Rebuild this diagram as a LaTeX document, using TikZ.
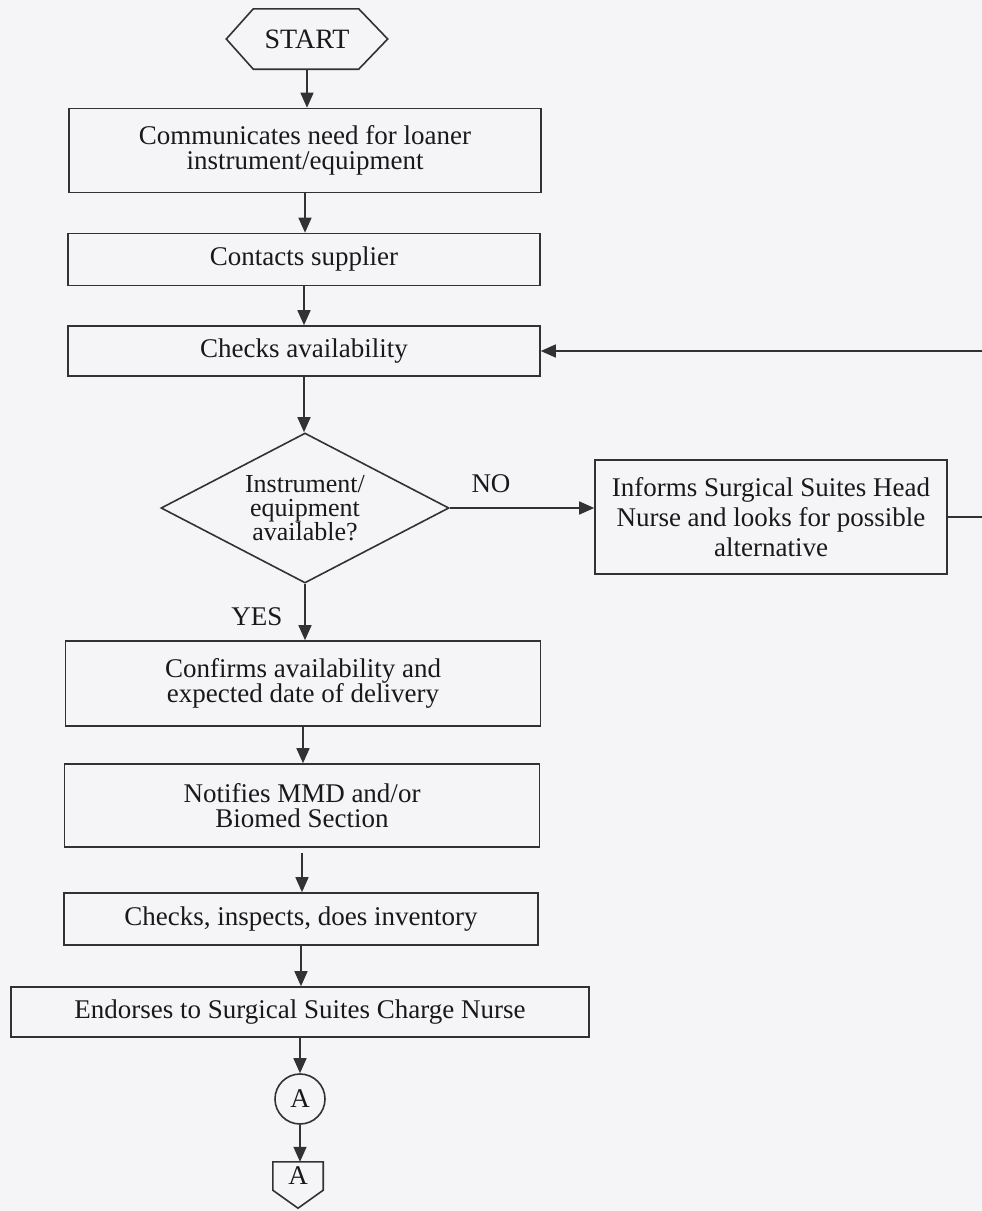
\documentclass[tikz,border=0pt]{standalone}
\usepackage{fontspec}
\setmainfont{Liberation Serif}
\usetikzlibrary{arrows.meta,shapes.geometric,calc}
\definecolor{bgcol}{RGB}{245,245,247}
\definecolor{linecol}{RGB}{50,50,50}
\definecolor{txtcol}{RGB}{25,25,25}
\tikzset{
  base/.style={text=txtcol, align=center, inner sep=0pt, font=\fontsize{27}{25}\selectfont},
  proc/.style={base, draw=linecol, line width=1.6pt, rectangle},
  lbl/.style={base},
  arr/.style={draw=linecol, line width=1.5pt, -{Triangle[width=13pt,length=15pt]}},
  plain/.style={draw=linecol, line width=1.5pt},
}
\begin{document}
\begin{tikzpicture}[x=1pt,y=-1pt]
\useasboundingbox[fill=bgcol] (0,0) rectangle (982,1211);
\clip (0,0) rectangle (982,1211);

% start terminator (hexagon)
\node[base, minimum width=161pt, minimum height=60pt, font=\fontsize{28}{25}\selectfont] (start) at (307,39) {START};
\draw[draw=linecol, line width=1.6pt]
  ([xshift=27pt]start.north west) -- ([xshift=-29pt]start.north east) -- (start.east)
  -- ([xshift=-29pt]start.south east) -- ([xshift=27pt]start.south west) -- (start.west) -- cycle;

\node[proc, minimum width=472pt, minimum height=84pt] (b1) at (305,150.5)
  {Communicates need for loaner\\instrument/equipment};
\node[proc, minimum width=472pt, minimum height=52pt] (b2) at (304,259.5)
  {Contacts supplier};
\node[proc, minimum width=472pt, minimum height=50pt] (b3) at (304,351)
  {Checks availability};
\node[base, diamond, aspect=1.92, draw=linecol, line width=1.6pt, minimum width=288pt, minimum height=150pt,
  font=\fontsize{26}{24}\selectfont] (dia) at (305,508)
  {Instrument/\\equipment\\available?};
\node[proc, minimum width=352pt, minimum height=114pt, font=\fontsize{27}{30}\selectfont] (info) at (771,517)
  {Informs Surgical Suites Head\\Nurse and looks for possible\\alternative};
\node[proc, minimum width=475pt, minimum height=85pt] (b4) at (303,683.5)
  {Confirms availability and\\expected date of delivery};
\node[proc, minimum width=475pt, minimum height=83pt] (b5) at (302,805.5)
  {Notifies MMD and/or\\Biomed Section};
\node[proc, minimum width=474pt, minimum height=52pt] (b6) at (301,919)
  {Checks, inspects, does inventory};
\node[proc, minimum width=578pt, minimum height=50pt] (b7) at (300,1012)
  {Endorses to Surgical Suites Charge Nurse};
\node[base, circle, draw=linecol, line width=1.6pt, minimum size=50pt] (con) at (300,1099) {A};
% off-page connector (pentagon)
\node[base, minimum width=50pt, minimum height=46pt] (offp) at (298,1185) {};
\draw[draw=linecol, line width=1.6pt]
  (offp.north west) -- (offp.north east) -- ([yshift=18pt]offp.south east) -- (offp.south)
  -- ([yshift=18pt]offp.south west) -- cycle;
\node[lbl] (offa) at (298,1176) {A};

\node[lbl] (no) at (491,484) {NO};
\node[lbl] (yes) at (257,617) {YES};

% connectors
\draw[arr] (start.south) -- (start.south |- b1.north);
\draw[arr] (b1.south) -- (b1.south |- b2.north);
\draw[arr] (b2.south) -- (b2.south |- b3.north);
\draw[arr] (b3.south) -- (b3.south |- dia.north);
\draw[arr] (dia.east) -- (dia.east -| info.west);
\draw[arr] (info.east) -- ++(45,0) |- (b3.east);
\draw[arr] (dia.south) -- (dia.south |- b4.north);
\draw[arr] (b4.south) -- (b4.south |- b5.north);
\draw[arr] ([yshift=-5pt]b5.south) -- (b5.south |- b6.north);
\draw[arr] (b6.south) -- (b6.south |- b7.north);
\draw[arr] (b7.south) -- (b7.south |- con.north);
\draw[arr] (con.south) -- (con.south |- offp.north);
\end{tikzpicture}
\end{document}
